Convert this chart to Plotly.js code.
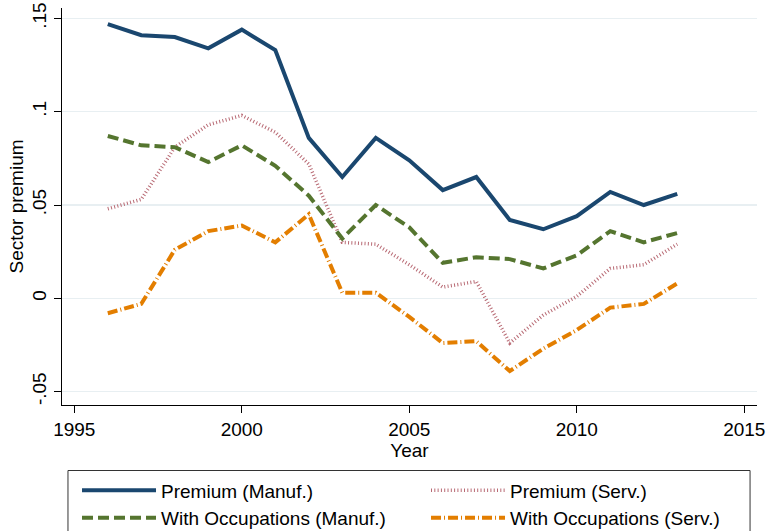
<!DOCTYPE html>
<html>
<head>
<meta charset="utf-8">
<script src="https://cdn.plot.ly/plotly-3.0.1.min.js"></script>
<style>html,body{margin:0;padding:0;background:#fff;}#chart{width:767px;height:531px;}</style>
</head>
<body>
<div id="chart"></div>
<script>
const years = [1996,1997,1998,1999,2000,2001,2002,2003,2004,2005,2006,2007,2008,2009,2010,2011,2012,2013];
const premiumManuf = [0.147,0.141,0.140,0.134,0.144,0.133,0.086,0.065,0.086,0.074,0.058,0.065,0.042,0.037,0.044,0.057,0.050,0.056];
const premiumServ = [0.048,0.053,0.081,0.093,0.098,0.089,0.072,0.030,0.029,0.018,0.006,0.009,-0.024,-0.009,0.001,0.016,0.018,0.029];
const occManuf = [0.087,0.082,0.081,0.073,0.082,0.071,0.055,0.032,0.050,0.038,0.019,0.022,0.021,0.016,0.023,0.036,0.030,0.035];
const occServ = [-0.008,-0.003,0.026,0.036,0.039,0.030,0.045,0.003,0.003,-0.010,-0.024,-0.023,-0.039,-0.027,-0.017,-0.005,-0.003,0.008];
const seriesNames = ['Premium (Manuf.)','Premium (Serv.)','With Occupations (Manuf.)','With Occupations (Serv.)'];
const yTickVals = [-0.05,0,0.05,0.1,0.15];
const yTickText = ['-.05','0','.05','.1','.15'];
const xTickVals = [1995,2000,2005,2010,2015];

const font = 'Liberation Sans, Arial, Helvetica, sans-serif';
const traces = [
  {x: years, y: premiumManuf, name: seriesNames[0], mode: 'lines',
   line: {color: '#1a476f', width: 4}},
  {x: years, y: premiumServ, name: seriesNames[1], mode: 'lines',
   line: {color: '#b86a74', width: 3.5, dash: '1px,2.3px'}},
  {x: years, y: occManuf, name: seriesNames[2], mode: 'lines',
   line: {color: '#55752f', width: 4, dash: '11px,5px'}},
  {x: years, y: occServ, name: seriesNames[3], mode: 'lines',
   line: {color: '#e37e00', width: 4, dash: '10px,3px,1px,3px'}}
];

const layout = {
  width: 767, height: 531,
  margin: {l: 62, r: 10, t: 8, b: 126, autoexpand: false},
  paper_bgcolor: '#ffffff', plot_bgcolor: '#ffffff',
  font: {family: font, size: 19, color: '#000'},
  showlegend: true,
  legend: {
    orientation: 'h', x: 0.0216, xanchor: 'left', y: -0.167, yanchor: 'top',
    entrywidth: 260, entrywidthmode: 'pixels', itemwidth: 74,
    traceorder: 'normal', borderwidth: 0, bgcolor: 'rgba(0,0,0,0)',
    font: {family: font, size: 19, color: '#000'}
  },
  xaxis: {
    range: [1994.633, 2015.38], tickvals: xTickVals, ticks: 'outside', ticklen: 7,
    tickcolor: '#000', tickwidth: 1, showgrid: false, zeroline: false,
    showline: true, linecolor: '#000', linewidth: 1,
    tickfont: {family: font, size: 19},
    title: {text: 'Year', font: {family: font, size: 19}, standoff: 2}
  },
  yaxis: {
    range: [-0.0572, 0.1556], tickvals: yTickVals, ticktext: yTickText,
    tickangle: -90, ticks: 'outside', ticklen: 7, tickcolor: '#000', tickwidth: 1,
    showgrid: true, gridcolor: '#e8eff2', gridwidth: 1.5, zeroline: false,
    showline: true, linecolor: '#000', linewidth: 1,
    tickfont: {family: font, size: 19},
    title: {text: 'Sector premium', font: {family: font, size: 19}, standoff: 0}
  },
  shapes: [
    {type: 'rect', xref: 'paper', yref: 'paper', x0: 0.0086, x1: 0.99, y0: -0.165, y1: -0.36,
     line: {color: '#333', width: 1}, fillcolor: 'rgba(0,0,0,0)', layer: 'below'}
  ]
};

Plotly.newPlot('chart', traces, layout, {displayModeBar: false, staticPlot: true});
</script>
</body>
</html>
